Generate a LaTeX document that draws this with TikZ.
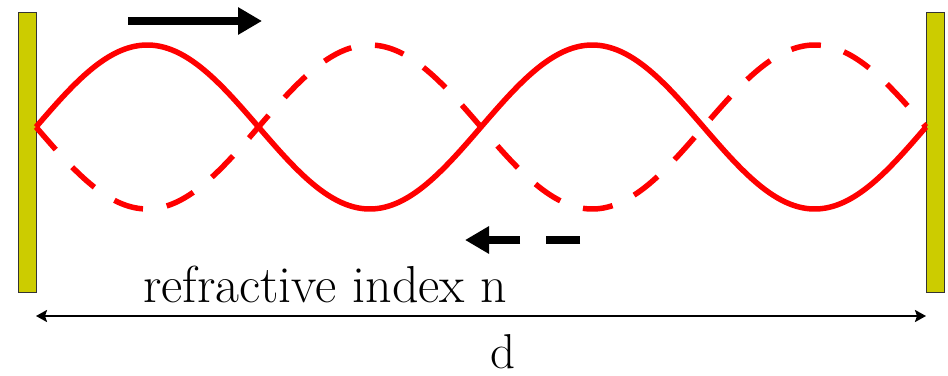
\documentclass[tikz,border=0pt]{standalone}
\usepackage{fontspec}
\usetikzlibrary{arrows.meta}
\definecolor{mirrorfill}{HTML}{CCCC00}
\definecolor{wavered}{HTML}{FF0000}
\tikzset{
  mirror/.style={draw=black!80, line width=1pt, fill=mirrorfill, minimum width=18pt, minimum height=280pt, inner sep=0pt, outer sep=0pt},
  wave/.style={draw=wavered, line width=5.5pt, line join=round},
  dirarrow/.style={line width=8pt, -{Triangle[length=24pt 0, width=26pt 0]}},
  dimarrow/.style={line width=2.2pt, {Stealth[length=11pt 0, width=12pt 0, inset=2pt]}-{Stealth[length=11pt 0, width=12pt 0, inset=2pt]}},
  lbl/.style={font=\rmfamily\fontsize{52}{60}\selectfont, inner sep=0pt}
}
\begin{document}
\begin{tikzpicture}[x=1pt, y=-1pt]
\useasboundingbox (0,0) rectangle (948,375);
% mirrors
\node[mirror] (m1) at (27,152) {};
\node[mirror] (m2) at (935,152) {};
% waves
\draw[wave] plot[domain=36:926, samples=200, smooth] (\x, {127-82*sin((\x-36)/445*360)});
\draw[wave, dash pattern=on 30pt off 24pt] plot[domain=36:926, samples=200, smooth] (\x, {127+82*sin((\x-36)/445*360)});
% direction arrows
\coordinate (a1s) at (128,21);
\coordinate (a1e) at (262,21);
\draw[dirarrow] (a1s) -- (a1e);
\coordinate (a2s) at (520,240);
\coordinate (a2e) at (465,240);
\draw[dirarrow] (a2s) -- (a2e);
\coordinate (a3s) at (580,240);
\coordinate (a3e) at (546,240);
\draw[line width=8pt] (a3s) -- (a3e);
% distance
\coordinate (dL) at (36,316);
\coordinate (dR) at (926,316);
\draw[dimarrow] (dL) -- (dR);
% labels
\node[lbl, anchor=base west] (n) at (143,302) {refractive index n};
\node[lbl, anchor=base, font=\rmfamily\fontsize{49}{56}\selectfont] (d) at (503,368) {d};
\end{tikzpicture}
\end{document}
